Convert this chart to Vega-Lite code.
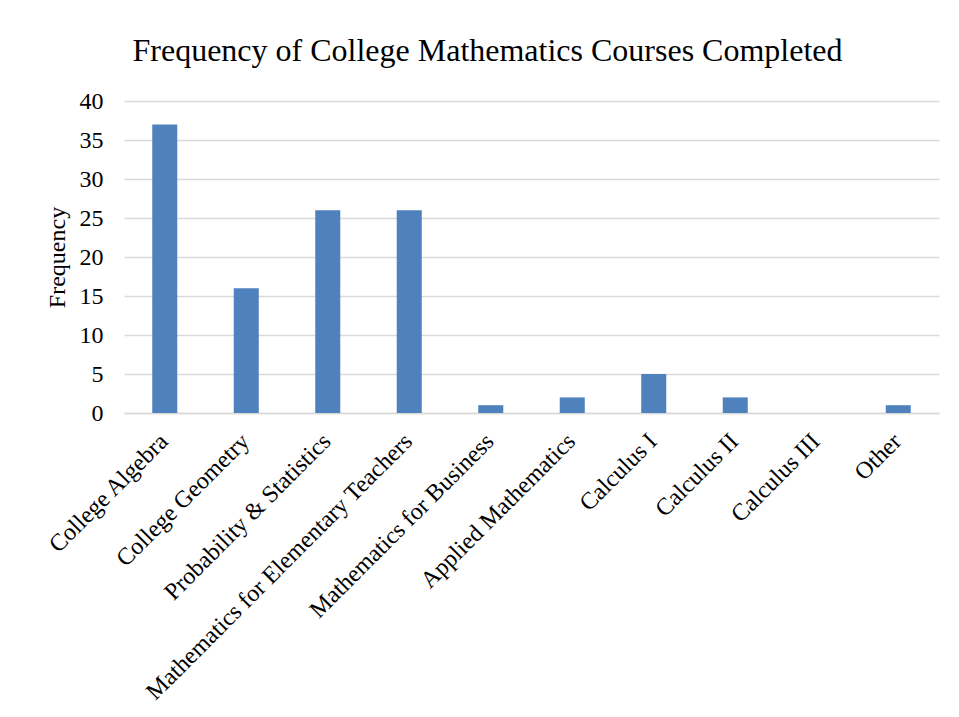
{
  "$schema": "https://vega.github.io/schema/vega-lite/v6.json",
  "width": 815,
  "height": 312,
  "autosize": {"type": "none"},
  "padding": {"left": 124, "top": 101, "right": 20, "bottom": 304},
  "background": "#ffffff",
  "title": {
    "text": "Frequency of College Mathematics Courses Completed",
    "font": "Liberation Serif",
    "fontSize": 32,
    "fontWeight": "normal",
    "color": "#000000",
    "anchor": "middle",
    "baseline": "alphabetic",
    "dx": -44,
    "offset": -4
  },
  "data": {
    "values": [
      {"course": "College Algebra", "frequency": 37},
      {"course": "College Geometry", "frequency": 16},
      {"course": "Probability & Statistics", "frequency": 26},
      {"course": "Mathematics for Elementary Teachers", "frequency": 26},
      {"course": "Mathematics for Business", "frequency": 1},
      {"course": "Applied Mathematics", "frequency": 2},
      {"course": "Calculus I", "frequency": 5},
      {"course": "Calculus II", "frequency": 2},
      {"course": "Calculus III", "frequency": 0},
      {"course": "Other", "frequency": 1}
    ]
  },
  "mark": {"type": "bar", "color": "#4F81BD"},
  "encoding": {
    "x": {
      "field": "course",
      "type": "nominal",
      "sort": null,
      "scale": {"paddingInner": 0.693, "paddingOuter": 0.3466},
      "axis": {
        "title": null,
        "labelAngle": -45,
        "labelAlign": "right",
        "labelBaseline": "top",
        "labelPadding": 16,
        "labelOffset": -9,
        "labelFont": "Liberation Serif",
        "labelFontSize": 24,
        "labelColor": "#000000",
        "labelLimit": 0,
        "ticks": false,
        "domain": true,
        "domainColor": "#d9d9d9",
        "domainWidth": 1.5,
        "grid": false
      }
    },
    "y": {
      "field": "frequency",
      "type": "quantitative",
      "scale": {"domain": [0, 40], "nice": false},
      "axis": {
        "title": "Frequency",
        "titleFont": "Liberation Serif",
        "titleFontSize": 24,
        "titleFontWeight": "normal",
        "titleColor": "#000000",
        "titlePadding": 10,
        "values": [0, 5, 10, 15, 20, 25, 30, 35, 40],
        "labelFont": "Liberation Serif",
        "labelFontSize": 24,
        "labelColor": "#000000",
        "labelPadding": 21,
        "ticks": false,
        "domain": false,
        "grid": true,
        "gridColor": "#d9d9d9",
        "gridWidth": 1.5
      }
    }
  },
  "config": {"view": {"stroke": null}}
}
